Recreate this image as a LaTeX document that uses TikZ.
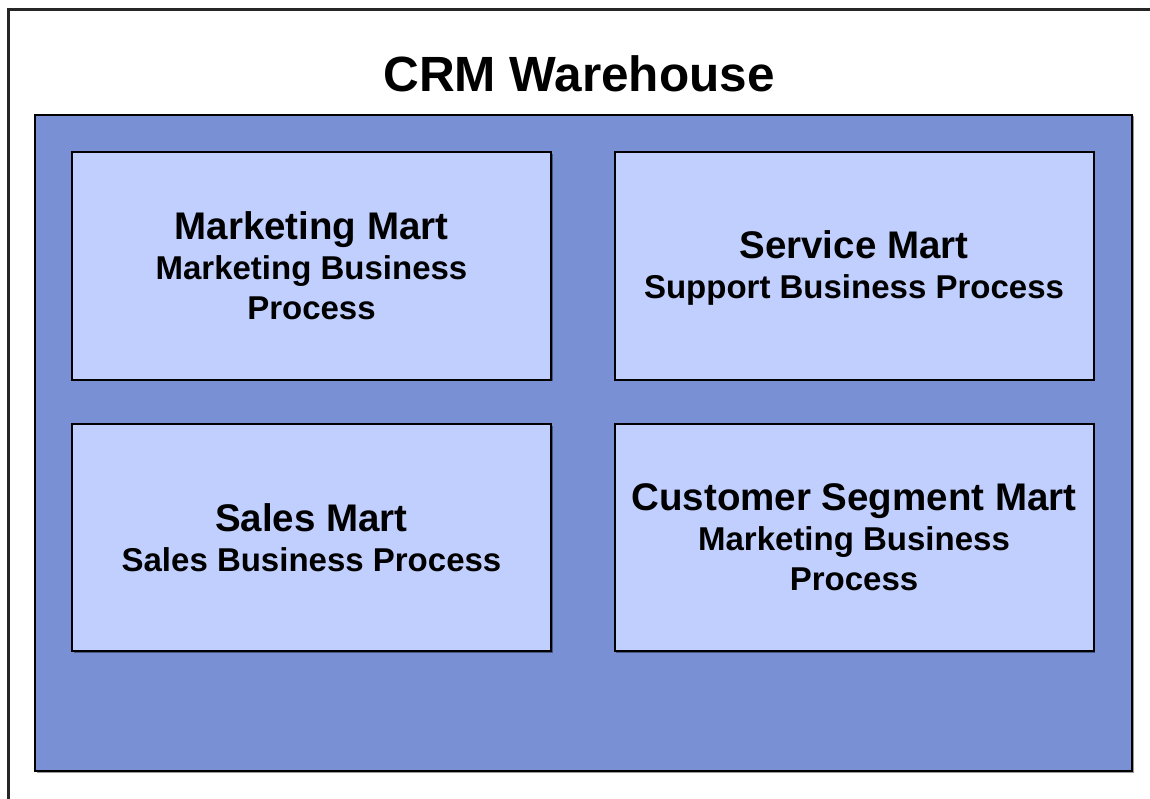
\documentclass[tikz,border=0pt]{standalone}
\usepackage{fontspec}
\setmainfont{Liberation Sans}
\usepackage{tikz}
\usetikzlibrary{backgrounds,calc,shadows}
\definecolor{whfill}{RGB}{121,145,212}
\definecolor{martfill}{RGB}{193,207,254}
\tikzset{
  shade off/.style={drop shadow={shadow xshift=1.5pt,shadow yshift=-1.5pt,fill=black,opacity=0.4}},
  whbox/.style={draw=black,line width=2pt,fill=whfill,shade off},
  martbox/.style={draw=black,line width=2pt,fill=martfill,shade off,
    minimum width=479pt,minimum height=227pt,inner sep=0pt},
  marttext/.style={align=center,font=\bfseries\fontsize{33}{40}\selectfont},
}
\newcommand{\martname}[1]{{\fontsize{38.5}{46}\selectfont #1}}

\begin{document}
\begin{tikzpicture}[x=1pt,y=-1pt]
\useasboundingbox (0,0) rectangle (1150,799);
\draw[line width=2.6pt,black!85] (8.5,799) |- (1150,9.5);
\node[anchor=base,font=\bfseries\fontsize{49.5}{58}\selectfont] (title) at (579,92) {CRM Warehouse};
\draw[whbox] (35,115) rectangle (1132,771);
% the four marts
\node[martbox] (mkt) at (311.5,266) {};
\node[martbox] (svc) at (854,266) {};
\node[martbox] (sls) at (311.5,537.5) {};
\node[martbox] (seg) at (854,537.5) {};
\node[marttext] (mkt text) at (mkt) {\martname{Marketing Mart}\\Marketing Business\\Process};
\node[marttext] (svc text) at ($(svc)+(0,2)$) {\martname{Service Mart}\\Support Business Process};
\node[marttext] (sls text) at (sls) {\martname{Sales Mart}\\Sales Business Process};
\node[marttext] (seg text) at (seg) {\martname{Customer Segment Mart}\\Marketing Business\\Process};
\end{tikzpicture}
\end{document}
